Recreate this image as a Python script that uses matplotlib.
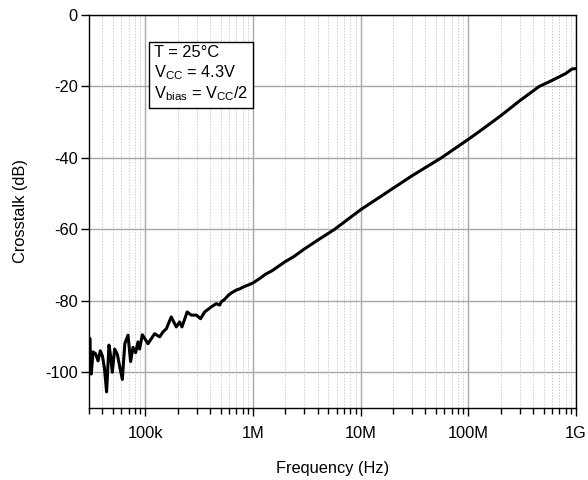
import numpy as np
import matplotlib.pyplot as plt
from matplotlib.ticker import FixedLocator, NullFormatter

plt.rcParams['font.family'] = ['Liberation Sans', 'DejaVu Sans']
plt.rcParams['mathtext.default'] = 'regular'

# crosstalk curve
freq = [30000, 30500, 31500, 32700, 34500, 36400, 38200, 40000, 41800, 43700,
        46000, 47700, 49400, 51900, 55000, 57500, 61200, 64500, 69100, 73000,
        76900, 81300, 85500, 88500, 93800, 98500, 106000, 122000, 136000, 146000,
        157000, 174000, 194000, 208000, 219000, 245000, 267000, 298000, 326000, 356000,
        410000, 456000, 490000, 508000, 545000, 593000, 629000, 700000, 760000, 830000,
        900000, 1000000, 1150000, 1300000, 1500000, 1750000, 2000000, 2400000, 3000000, 4000000,
        5720000, 10000000, 20000000, 30000000, 56000000, 100000000, 132000000, 200000000, 300000000, 455000000,
        600000000, 800000000, 920000000, 1000000000]
crosstalk = [-97, -90.5, -100.5, -94.3, -94.8, -96.8, -94, -95.5, -99, -105.5,
             -92.4, -95.5, -100, -93.5, -95, -98, -102, -92, -89.6, -97,
             -93, -94.5, -91.5, -93.5, -89.5, -90.5, -92, -89.2, -90.1, -88.7,
             -87.8, -84.5, -87.3, -85.9, -87.3, -83.1, -84, -84, -85, -83.1,
             -81.7, -80.8, -81.2, -80.3, -79.6, -78.4, -77.8, -77, -76.6, -76,
             -75.6, -75, -73.8, -72.6, -71.6, -70.2, -69, -67.6, -65.5, -63,
             -60, -54.5, -48.5, -45, -40, -34.8, -32.2, -28.2, -24, -20,
             -18.3, -16.4, -15.1, -15]

xticks = [1e5, 1e6, 1e7, 1e8, 1e9]
xticklabels = ['100k', '1M', '10M', '100M', '1G']
yticks = [0, -20, -40, -60, -80, -100]

fig = plt.figure(figsize=(5.88, 4.8), dpi=100)
ax = fig.add_axes([89/588, 1-408/480, 487/588, 393/480])

ax.plot(freq, crosstalk, color='black', lw=2.2)

ax.set_xscale('log')
ax.set_xlim(3e4, 1e9)
ax.set_ylim(-110, 0)
ax.xaxis.set_major_locator(FixedLocator(xticks))
ax.set_xticklabels(xticklabels)
minors = [m * 10**e for e in range(4, 9) for m in range(2, 10)]
ax.xaxis.set_minor_locator(FixedLocator([v for v in minors if 3e4 <= v <= 1e9]))
ax.xaxis.set_minor_formatter(NullFormatter())
ax.set_yticks(yticks)
ax.set_yticklabels([str(v) for v in yticks])

ax.grid(which='major', axis='both', color='#a8a8a8', lw=1.0, ls='-')
ax.grid(which='minor', axis='x', color='#cccccc', lw=0.7, ls=(0, (1.5, 1.5)))
ax.set_axisbelow(True)

ax.tick_params(which='major', direction='out', length=6, width=1, labelsize=11.8)
ax.tick_params(axis='x', which='major', pad=7)
ax.tick_params(axis='y', which='major', pad=2)
ax.tick_params(which='minor', direction='out', length=4, width=1)
for s in ax.spines.values():
    s.set_linewidth(1)

ax.set_xlabel('Frequency (Hz)', fontsize=11.8, labelpad=14)
ax.set_ylabel('Crosstalk (dB)', fontsize=11.8, labelpad=12)

ax.text(0.133, 0.923,
        'T = 25°C\n$V_{CC}$ = 4.3V\n$V_{bias}$ = $V_{CC}$/2',
        transform=ax.transAxes, fontsize=11.8, va='top', ha='left', linespacing=1.2,
        bbox=dict(boxstyle='square,pad=0.28', facecolor='white', edgecolor='black', lw=1))

fig.savefig('out.png', dpi=100)
